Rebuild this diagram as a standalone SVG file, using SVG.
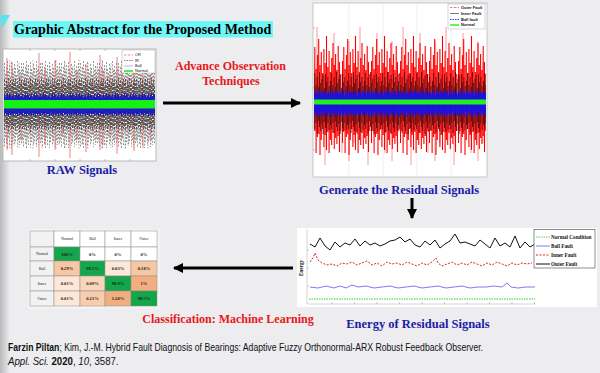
<svg xmlns="http://www.w3.org/2000/svg" width="600" height="373" viewBox="0 0 600 373">
<style>
.hd{font-family:"Liberation Serif",serif;font-weight:bold;}
.blue{fill:#1c1ca6;font-size:12.5px;}
.red{fill:#e81818;font-size:12px;}
.cell{stroke:#8a8a8a;stroke-width:0.5;}
.ct{font-family:"Liberation Serif",serif;font-weight:bold;font-size:4.6px;text-anchor:middle;fill:#222;}
.ch{font-family:"Liberation Serif",serif;font-size:4px;text-anchor:middle;fill:#222;}
.lg{font-family:"Liberation Sans",sans-serif;font-size:4px;fill:#111;}
.lge{font-family:"Liberation Serif",serif;font-weight:bold;font-size:5.2px;fill:#111;}
.conn{stroke:#000;stroke-width:3;fill:none;}
.cite{font-family:"Liberation Sans",sans-serif;font-size:10.5px;fill:#111;}
</style>
<defs>
<linearGradient id="shade" x1="0" x2="1" y1="0" y2="0">
<stop offset="0" stop-color="#b9b9bb"/><stop offset="1" stop-color="#edecef"/>
</linearGradient>
<marker id="ah" viewBox="0 0 10 10" refX="9" refY="5" markerWidth="3.4" markerHeight="3.4" orient="auto" markerUnits="strokeWidth">
<path d="M0 0L10 5L0 10z" fill="#000"/>
</marker>
<pattern id="pr1" patternUnits="userSpaceOnUse" x="313" y="3" width="29" height="174">
<path d="M0.5 58V140M1.8 44V128M3.1 66V150M4.4 52V134M5.7 36V131M7 62V152M8.3 49V137M9.6 70V126M10.9 46V144M12.2 60V132M13.5 33V147M14.8 64V129M16.1 48V150M17.4 69V137M18.7 55V142M20 40V130M21.3 62V146M22.6 51V135M23.9 67V141M25.2 43V133M26.5 59V149M27.8 71V128" stroke="#ff0000" stroke-width="1.1" fill="none"/>
</pattern>
<pattern id="pr2" patternUnits="userSpaceOnUse" x="313" y="3" width="43" height="174">
<path d="M4 24V118M12 75V162M21 30V120M29 80V150M36 38V158M41 60V140" stroke="#ff4040" stroke-width="1" fill="none"/>
</pattern>
<pattern id="pk" patternUnits="userSpaceOnUse" x="313" y="3" width="17" height="174">
<path d="M0.5 78V122M1.7 70V126M2.9 82V120M4.1 74V130M5.3 84V118M6.5 68V124M7.7 80V128M8.9 76V121M10.1 72V131M11.3 85V119M12.5 71V125M13.7 79V129M14.9 74V120M16.1 83V127" stroke="#3a0404" stroke-width="0.9" fill="none"/>
</pattern>
<pattern id="pb" patternUnits="userSpaceOnUse" x="313" y="3" width="13" height="174">
<path d="M0.5 89V111M1.5 91V113M2.5 87V110M3.5 90V114M4.5 88V112M5.5 92V110M6.5 86V113M7.5 90V111M8.5 88V114M9.5 91V109M10.5 87V112M11.5 89V113M12.5 90V110" stroke="#1212f0" stroke-width="0.9" fill="none"/>
</pattern>
<pattern id="qg" patternUnits="userSpaceOnUse" x="3" y="49" width="19" height="112">
<path d="M0.5 20V92M1.5 14V98M2.5 25V88M3.5 18V95M4.5 12V100M5.5 22V90M6.5 16V96M7.5 28V86M8.5 13V99M9.5 20V93M10.5 24V89M11.5 15V97M12.5 19V94M13.5 26V87M14.5 12V98M15.5 21V91M16.5 17V96M17.5 23V90M18.5 14V95" stroke="#555" stroke-width="0.6" stroke-dasharray="2 1.4" fill="none"/>
</pattern>
<pattern id="qg2" patternUnits="userSpaceOnUse" x="3" y="49" width="23" height="112">
<path d="M1 17V94M4 23V91M7 11V101M10 19V96M13 27V85M16 14V99M19 21V92M22 25V88" stroke="#666" stroke-width="0.6" stroke-dasharray="1.5 1.5" fill="none"/>
</pattern>
<pattern id="qk" patternUnits="userSpaceOnUse" x="3" y="49" width="11" height="112">
<path d="M0.5 34V78M1.5 30V82M2.5 38V75M3.5 32V80M4.5 36V77M5.5 29V83M6.5 35V79M7.5 31V76M8.5 37V81M9.5 33V78M10.5 30V80" stroke="#111" stroke-width="0.7" stroke-dasharray="3 1" fill="none"/>
</pattern>
<pattern id="qb" patternUnits="userSpaceOnUse" x="3" y="49" width="9" height="112">
<path d="M0.5 47V65M1.5 45V67M2.5 48V64M3.5 46V66M4.5 44V65M5.5 47V67M6.5 45V64M7.5 46V66M8.5 48V65" stroke="#1414c8" stroke-width="0.9" fill="none"/>
</pattern>
</defs>

<rect width="600" height="373" fill="#edecef"/>
<rect width="10" height="373" fill="url(#shade)"/>

<g id="title">
<polygon points="0,15 10,15 2,29" fill="#5fe3ea"/>
<rect x="13" y="21" width="260" height="16.5" fill="#6ef7f7"/>
<text x="14" y="33.8" class="hd" font-size="14" fill="#000">Graphic Abstract for the Proposed Method</text>
</g>

<g id="raw-signals">
<rect x="3" y="49" width="153" height="112" fill="#fff" stroke="#aaa" stroke-width="0.8"/>
<path d="M30 49v2M55 49v2M80 49v2M105 49v2M130 49v2M30 161v-2M55 161v-2M80 161v-2M105 161v-2M130 161v-2M3 70h2M3 90h2M3 120h2M3 140h2" stroke="#888" stroke-width="0.5"/>
<rect x="4" y="58" width="151" height="95" fill="url(#qg)"/>
<rect x="4" y="58" width="151" height="95" fill="url(#qg2)" opacity="0.8"/>
<path d="M7 58V150M12 62V155M21 75V140M30 78V134M39 53V157M45 68V145M55 60V150M62 76V136M70 52V158M77 70V140M86 64V152M93 77V133M100 55V150M103 70V145M110 75V137M117 57V154M122 72V138M128 79V131M134 62V151M143 66V148M150 74V140" stroke="#ee5a5a" stroke-width="0.9" opacity="0.85" fill="none"/>
<rect x="4" y="78" width="151" height="54" fill="url(#qk)" opacity="0.75"/>
<rect x="4" y="92" width="151" height="25" fill="url(#qb)"/>
<rect x="4" y="100" width="151" height="8.5" fill="#16f016"/>
<rect x="122" y="50" width="33" height="23" fill="#fff" stroke="#999" stroke-width="0.4"/>
<path d="M124 55h9" stroke="#e33" stroke-width="0.6" stroke-dasharray="2 0.7 0.6 0.7"/>
<path d="M124 60.5h9" stroke="#333" stroke-width="0.6" stroke-dasharray="1.5 1"/>
<path d="M124 66h9" stroke="#66f" stroke-width="0.5"/>
<path d="M124 71h9" stroke="#16f016" stroke-width="1.6"/>
<text x="135" y="56.4" class="lg">OR</text>
<text x="135" y="61.9" class="lg">IR</text>
<text x="135" y="67.4" class="lg">Ball</text>
<text x="135" y="72.4" class="lg">Normal</text>
<text x="82" y="174" class="hd blue" text-anchor="middle">RAW Signals</text>
</g>

<g id="residual-signals">
<rect x="313" y="3" width="174" height="174" fill="#fff" stroke="#bbb" stroke-width="0.8"/>
<path d="M349 4V176M383 4V176M417 4V176M451 4V176" stroke="#e6e6e6" stroke-width="0.6"/>
<path d="M313 28h2M313 88h2M313 150h2" stroke="#888" stroke-width="0.5"/>
<rect x="314" y="20" width="172" height="150" fill="url(#pr2)" opacity="0.55"/>
<rect x="314" y="30" width="172" height="135" fill="url(#pr1)"/>
<rect x="314" y="72" width="172" height="64" fill="url(#pk)" opacity="0.85"/>
<rect x="314" y="88" width="172" height="30" fill="url(#pb)"/>
<rect x="314" y="99.5" width="172" height="5" fill="#22ee22"/>
<rect x="448" y="4" width="37" height="25" fill="#fff" stroke="#999" stroke-width="0.4"/>
<path d="M450 7.5h9" stroke="#e22" stroke-width="0.6" stroke-dasharray="2 0.7 0.6 0.7"/>
<path d="M450 13.5h9" stroke="#222" stroke-width="0.6"/>
<path d="M450 19.5h9" stroke="#22f" stroke-width="0.9" stroke-dasharray="1.5 1"/>
<path d="M450 25h9" stroke="#22ee22" stroke-width="1.4"/>
<text x="461" y="8.8" class="lg" font-weight="bold">Outer Fault</text>
<text x="461" y="14.8" class="lg" font-weight="bold">Inner Fault</text>
<text x="461" y="20.8" class="lg" font-weight="bold">Ball fault</text>
<text x="461" y="26.3" class="lg" font-weight="bold">Normal</text>
<text x="399" y="193.5" class="hd blue" text-anchor="middle">Generate the Residual Signals</text>
</g>

<g id="energy-signals">
<rect x="297" y="228" width="300" height="79" fill="#fff"/>
<path d="M307 229V304H535" stroke="#bbb" stroke-width="0.6" fill="none"/>
<path d="M332 304v-2M354.5 304v-2M377 304v-2M399.5 304v-2M422 304v-2M444.5 304v-2M467 304v-2M489.5 304v-2M512 304v-2M534.5 304v-2M307 250h2M307 268h2M307 286h2" stroke="#999" stroke-width="0.5"/>
<text transform="translate(302.5 268) rotate(-90)" class="lge" text-anchor="middle" fill="#444" font-size="5.5">Energy</text>
<polyline points="310,244 315,247 320,238 325,246 330,250 335,242 340,247 345,243 350,245 355,239 360,246 365,241 370,245 375,243 380,246 385,244 390,241 395,240 400,237 405,242 410,239 415,245 420,247 425,241 430,245 435,240 440,248 445,244 450,241 455,234 460,243 465,242 470,244 475,246 480,240 485,244 490,248 495,238 500,246 505,243 510,247 515,236 520,248 525,242 530,247 535,244" fill="none" stroke="#111" stroke-width="1"/>
<polyline points="310,262 313,258 315,253 318,260 322,263 327,265 332,264 337,266 342,263 347,264 352,262 357,265 362,263 367,261 372,265 377,263 382,266 387,262 392,264 397,263 402,265 407,262 412,264 417,266 422,263 427,265 432,262 436,258 438,263 442,266 447,264 452,262 457,265 462,263 467,265 472,262 477,264 482,266 487,263 492,265 497,262 502,264 507,266 512,263 517,265 522,263 527,264 532,263" fill="none" stroke="#e02020" stroke-width="1" stroke-dasharray="2 1.5"/>
<polyline points="310,287 318,288 326,286 334,288 340,286 346,288 352,285 358,287 366,286 374,288 382,287 390,286 398,288 406,287 414,286 422,288 430,287 438,286 446,288 454,287 462,286 470,288 478,287 486,287 494,286 502,287 507,283 511,287 518,288 526,287 535,287" fill="none" stroke="#5b5bef" stroke-width="0.8"/>
<path d="M309 299H535" stroke="#2ecc2e" stroke-width="1" stroke-dasharray="1.5 1"/>
<rect x="534" y="229.5" width="61" height="38.5" fill="#fff" stroke="#444" stroke-width="0.6"/>
<path d="M536 237h14" stroke="#2ecc2e" stroke-width="0.8" stroke-dasharray="1.5 1"/>
<path d="M536 246h14" stroke="#5b5bef" stroke-width="0.8"/>
<path d="M536 255h14" stroke="#e02020" stroke-width="1" stroke-dasharray="2 1.5"/>
<path d="M536 264h14" stroke="#111" stroke-width="1"/>
<text x="551" y="238.8" class="lge">Normal Condition</text>
<text x="551" y="247.8" class="lge">Ball Fault</text>
<text x="551" y="256.8" class="lge">Inner Fault</text>
<text x="551" y="265.8" class="lge">Outer Fault</text>
<text x="418" y="328" class="hd blue" text-anchor="middle">Energy of Residual Signals</text>
</g>

<g id="classification">
<rect x="28" y="229" width="132" height="80" fill="#f3f3f4"/>
<rect class="cell" x="30" y="231" width="24" height="16" fill="#f2f2f2"/>
<rect class="cell" x="54" y="231" width="26" height="16" fill="#fff"/>
<rect class="cell" x="80" y="231" width="25" height="16" fill="#fff"/>
<rect class="cell" x="105" y="231" width="26" height="16" fill="#fff"/>
<rect class="cell" x="131" y="231" width="26" height="16" fill="#fff"/>
<rect class="cell" x="30" y="247" width="24" height="14" fill="#f2f2f2"/>
<rect class="cell" x="54" y="247" width="26" height="14" fill="#13a64a"/>
<rect class="cell" x="80" y="247" width="25" height="14" fill="#fff"/>
<rect class="cell" x="105" y="247" width="26" height="14" fill="#fff"/>
<rect class="cell" x="131" y="247" width="26" height="14" fill="#fff"/>
<rect class="cell" x="30" y="261" width="24" height="15" fill="#f2f2f2"/>
<rect class="cell" x="54" y="261" width="26" height="15" fill="#f7c6a3"/>
<rect class="cell" x="80" y="261" width="25" height="15" fill="#13a64a"/>
<rect class="cell" x="105" y="261" width="26" height="15" fill="#fce7d8"/>
<rect class="cell" x="131" y="261" width="26" height="15" fill="#f7c6a3"/>
<rect class="cell" x="30" y="276" width="24" height="15" fill="#f2f2f2"/>
<rect class="cell" x="54" y="276" width="26" height="15" fill="#fce7d8"/>
<rect class="cell" x="80" y="276" width="25" height="15" fill="#f9d5bb"/>
<rect class="cell" x="105" y="276" width="26" height="15" fill="#13a64a"/>
<rect class="cell" x="131" y="276" width="26" height="15" fill="#f2ae80"/>
<rect class="cell" x="30" y="291" width="24" height="15" fill="#f2f2f2"/>
<rect class="cell" x="54" y="291" width="26" height="15" fill="#fce7d8"/>
<rect class="cell" x="80" y="291" width="25" height="15" fill="#f8cdae"/>
<rect class="cell" x="105" y="291" width="26" height="15" fill="#f2ae80"/>
<rect class="cell" x="131" y="291" width="26" height="15" fill="#13a64a"/>
<text class="ch" x="67" y="240.4">Normal</text>
<text class="ch" x="92.5" y="240.4">Ball</text>
<text class="ch" x="118" y="240.4">Inner</text>
<text class="ch" x="144" y="240.4">Outer</text>
<text class="ch" x="42" y="255.4">Normal</text>
<text class="ch" x="42" y="269.9">Ball</text>
<text class="ch" x="42" y="284.9">Inner</text>
<text class="ch" x="42" y="299.9">Outer</text>
<text class="ct" x="67" y="255.6" fill="#fff">100%</text>
<text class="ct" x="92.5" y="255.6">0%</text>
<text class="ct" x="118" y="255.6">0%</text>
<text class="ct" x="144" y="255.6">0%</text>
<text class="ct" x="67" y="270.1">0.29%</text>
<text class="ct" x="92.5" y="270.1" fill="#fff">99.5%</text>
<text class="ct" x="118" y="270.1">0.03%</text>
<text class="ct" x="144" y="270.1">0.18%</text>
<text class="ct" x="67" y="285.1">0.01%</text>
<text class="ct" x="92.5" y="285.1">0.09%</text>
<text class="ct" x="118" y="285.1" fill="#fff">98.9%</text>
<text class="ct" x="144" y="285.1">1%</text>
<text class="ct" x="67" y="300.1">0.01%</text>
<text class="ct" x="92.5" y="300.1">0.21%</text>
<text class="ct" x="118" y="300.1">1.20%</text>
<text class="ct" x="144" y="300.1" fill="#fff">98.5%</text>
<text x="228" y="323" class="hd red" font-size="12.6" text-anchor="middle">Classification: Machine Learning</text>
</g>

<g id="advance-label">
<text x="230.5" y="70" class="hd red" font-size="12.4" text-anchor="middle">Advance Observation</text>
<text x="231" y="85" class="hd red" font-size="12.4" text-anchor="middle">Techniques</text>
</g>

<g id="connectors">
<line class="conn" x1="163" y1="103" x2="300" y2="103" marker-end="url(#ah)"/>
<line class="conn" x1="412" y1="198" x2="412" y2="218" marker-end="url(#ah)"/>
<line class="conn" x1="293" y1="268" x2="174" y2="268" marker-end="url(#ah)"/>
</g>

<g id="citation">
<text transform="translate(8 350.5) scale(0.824 1)" class="cite"><tspan font-weight="bold">Farzin Piltan</tspan>; Kim, J.-M. Hybrid Fault Diagnosis of Bearings: Adaptive Fuzzy Orthonormal-ARX Robust Feedback Observer.</text>
<text transform="translate(8 364.5) scale(0.92 1)" class="cite"><tspan font-style="italic">Appl. Sci.</tspan> <tspan font-weight="bold">2020</tspan>, <tspan font-style="italic">10</tspan>, 3587.</text>
</g>
</svg>
